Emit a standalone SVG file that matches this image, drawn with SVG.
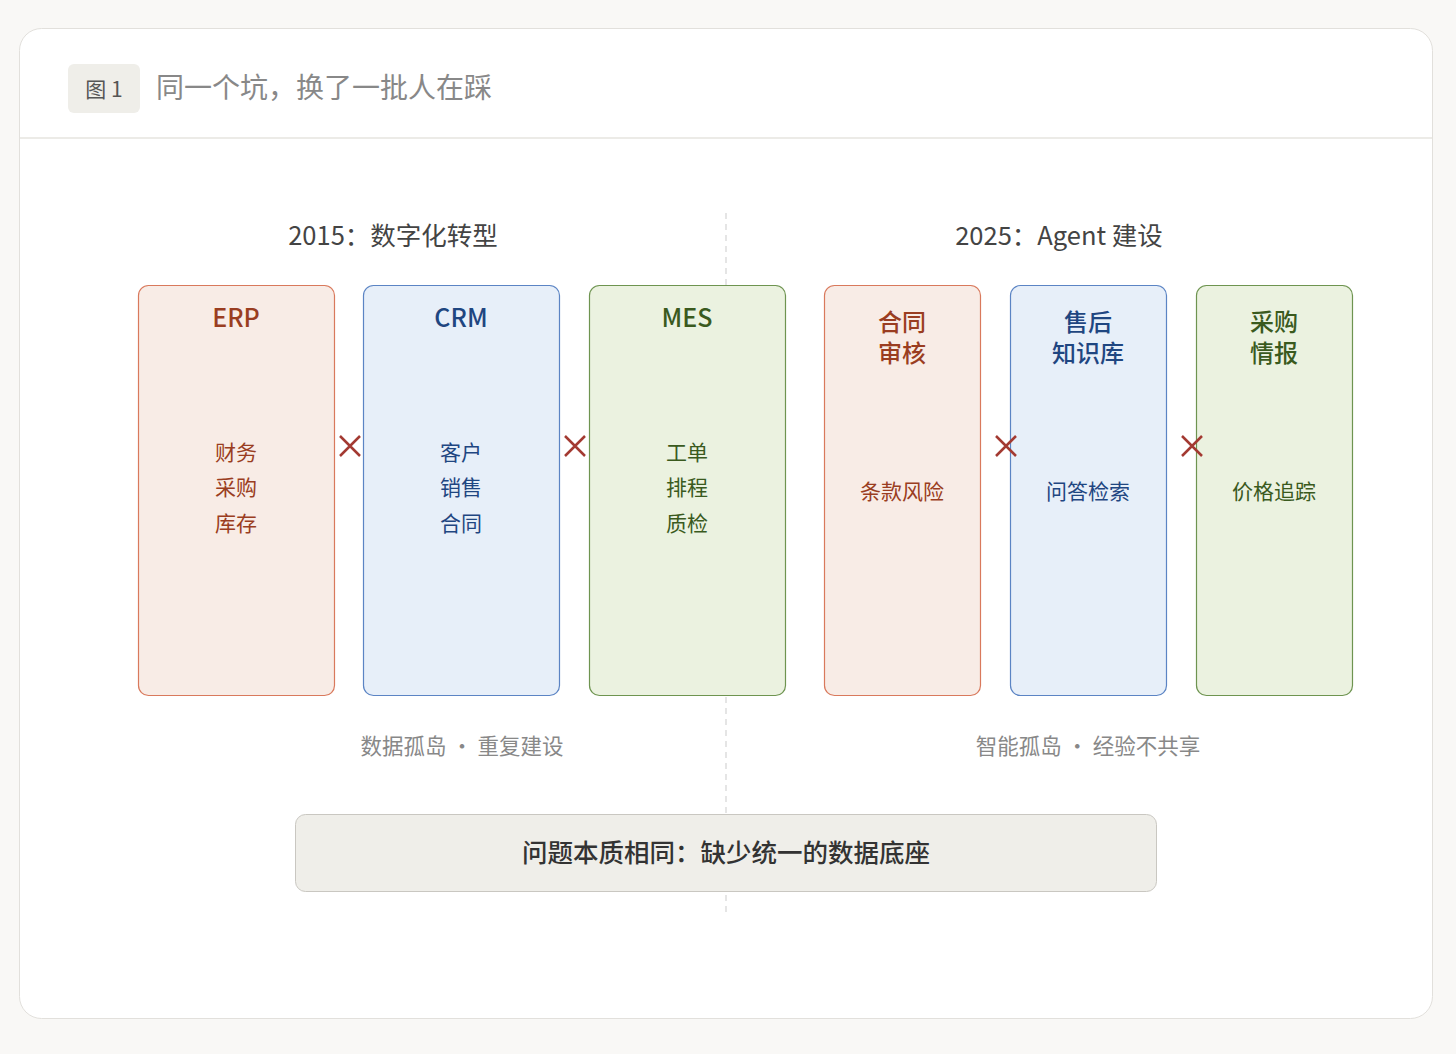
<svg xmlns="http://www.w3.org/2000/svg" width="1456" height="1054" viewBox="0 0 1456 1054">
<style>
text{font-family:"Noto Sans CJK SC","Noto Sans",sans-serif}
.t{fill:#444;font-size:25.5px;text-anchor:middle}
.h{font-size:25px;text-anchor:middle;font-weight:500}
.h2{font-size:24px;text-anchor:middle;font-weight:500}
.s{font-size:21px;text-anchor:middle}
.r{fill:#f8ece6;stroke:#d9795c;stroke-width:1.2}
.b{fill:#e7eff9;stroke:#5b84c4;stroke-width:1.2}
.g{fill:#ebf2e0;stroke:#6e9450;stroke-width:1.2}
.rt{fill:#9a3d21}.bt{fill:#1f4681}.gt{fill:#3a5a1e}
.x{stroke:#a33a32;stroke-width:2.5}
.n{fill:#888;font-size:21.5px;text-anchor:middle}
</style>
<rect width="1456" height="1054" fill="#f9f8f6"/>
<rect x="19.5" y="28.5" width="1413" height="990" rx="22" fill="#fff" stroke="#e2e0dc"/>
<line x1="20" y1="138" x2="1432" y2="138" stroke="#ecebe7" stroke-width="2"/>
<rect x="68" y="64" width="72" height="49" rx="6" fill="#efeee9"/>
<text x="104" y="97" font-size="21" fill="#555" text-anchor="middle">图 1</text>
<text x="156" y="98" font-size="28" fill="#888">同一个坑，换了一批人在踩</text>
<line x1="726" y1="213" x2="726" y2="912" stroke="#ddd" stroke-width="1.5" stroke-dasharray="6 5"/>
<text class="t" x="393" y="245">2015：数字化转型</text>
<text class="t" x="1059" y="245">2025：Agent 建设</text>
<g id="erp"><rect class="r" x="138.5" y="285.5" width="196" height="410" rx="10"/>
<text class="h rt" x="236" y="327">ERP</text>
<text class="s rt" x="236" y="460">财务</text><text class="s rt" x="236" y="495">采购</text><text class="s rt" x="236" y="531">库存</text></g>
<g id="crm"><rect class="b" x="363.5" y="285.5" width="196" height="410" rx="10"/>
<text class="h bt" x="461" y="327">CRM</text>
<text class="s bt" x="461" y="460">客户</text><text class="s bt" x="461" y="495">销售</text><text class="s bt" x="461" y="531">合同</text></g>
<g id="mes"><rect class="g" x="589.5" y="285.5" width="196" height="410" rx="10"/>
<text class="h gt" x="687" y="327">MES</text>
<text class="s gt" x="687" y="460">工单</text><text class="s gt" x="687" y="495">排程</text><text class="s gt" x="687" y="531">质检</text></g>
<g id="a1"><rect class="r" x="824.5" y="285.5" width="156" height="410" rx="10"/>
<text class="h2 rt" x="902" y="331">合同</text><text class="h2 rt" x="902" y="362">审核</text>
<text class="s rt" x="902" y="499">条款风险</text></g>
<g id="a2"><rect class="b" x="1010.5" y="285.5" width="156" height="410" rx="10"/>
<text class="h2 bt" x="1088" y="331">售后</text><text class="h2 bt" x="1088" y="362">知识库</text>
<text class="s bt" x="1088" y="499">问答检索</text></g>
<g id="a3"><rect class="g" x="1196.5" y="285.5" width="156" height="410" rx="10"/>
<text class="h2 gt" x="1274" y="331">采购</text><text class="h2 gt" x="1274" y="362">情报</text>
<text class="s gt" x="1274" y="499">价格追踪</text></g>
<g id="connectors">
<path class="x" d="M340 436l20 20M360 436l-20 20M565 436l20 20M585 436l-20 20M996 436l20 20M1016 436l-20 20M1182 436l20 20M1202 436l-20 20"/>
</g>
<text class="n" x="462" y="754">数据孤岛 · 重复建设</text>
<text class="n" x="1088" y="754">智能孤岛 · 经验不共享</text>
<g id="bottom"><rect x="295.5" y="814.5" width="861" height="77" rx="10" fill="#efeee9" stroke="#c9c7c1"/>
<text x="726" y="862" font-size="25.5" fill="#333" text-anchor="middle" font-weight="500">问题本质相同：缺少统一的数据底座</text></g>
</svg>
